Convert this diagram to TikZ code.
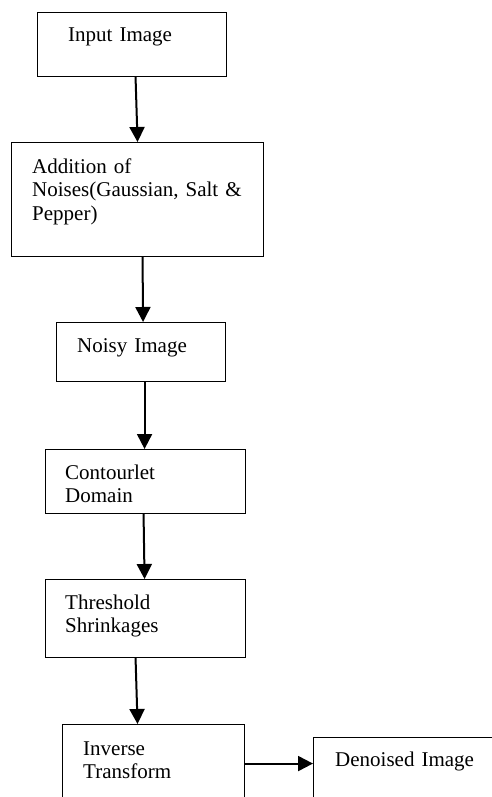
\documentclass[tikz,border=0pt]{standalone}
\usepackage{fontspec}
\setmainfont{Liberation Serif}
\usetikzlibrary{arrows.meta}

\tikzset{
	box/.style={draw, rectangle, line width=1.1pt, inner sep=0pt, anchor=north west},
	txt/.style={anchor=base west, inner sep=0pt, align=left, text width=#1, font=\fontsize{21}{23.5}\selectfont},
	flow/.style={-{Triangle[length=15pt,width=15pt]}, line width=2pt}
}

\begin{document}
\begin{tikzpicture}[x=1pt,y=1pt]
		\useasboundingbox (0,0) rectangle (492,-797);
		\clip (0,0) rectangle (492,-797);
		%boxes
		\node[box, minimum width=189pt, minimum height=64pt] (inp) at (37,-12) {};
		\node[box, minimum width=252pt, minimum height=114pt] (noise) at (11,-142) {};
		\node[box, minimum width=169pt, minimum height=59pt] (noisy) at (56,-322) {};
		\node[box, minimum width=200pt, minimum height=64pt] (cont) at (45,-449) {};
		\node[box, minimum width=200pt, minimum height=78pt] (thr) at (45,-579) {};
		\node[box, minimum width=182pt, minimum height=78pt] (inv) at (62,-724) {};
		\node[box, minimum width=200pt, minimum height=80pt] (den) at (313,-737) {};
		%texts
		\node[txt=150pt] (inptxt) at (68,-42) {Input Image};
		\node[txt=225pt] (noisetxt) at (32,-173) {Addition of\\ Noises(Gaussian, Salt \&\\ Pepper)};
		\node[txt=140pt] (noisytxt) at (77,-352) {Noisy Image};
		\node[txt=170pt] (conttxt) at (65,-479) {Contourlet\\ Domain};
		\node[txt=170pt] (thrtxt) at (65,-609) {Threshold\\ Shrinkages};
		\node[txt=150pt] (invtxt) at (83,-755) {Inverse\\ Transform};
		\node[txt=160pt] (dentxt) at (335,-766) {Denoised Image};
		%arrows
		\draw[flow] ([xshift=3.5pt]inp.south) -- (noise.north);
		\draw[flow] ([xshift=5pt]noise.south) -- ([xshift=2pt]noisy.north);
		\draw[flow] ([xshift=3.5pt]noisy.south) -- ([xshift=-1pt]cont.north);
		\draw[flow] ([xshift=-2pt]cont.south) -- ([xshift=-1pt]thr.north);
		\draw[flow] ([xshift=-10pt]thr.south) -- ([xshift=-16pt]inv.north);
		\draw[flow] (inv.east) -- (den.west |- inv.east);
\end{tikzpicture}
\end{document}
